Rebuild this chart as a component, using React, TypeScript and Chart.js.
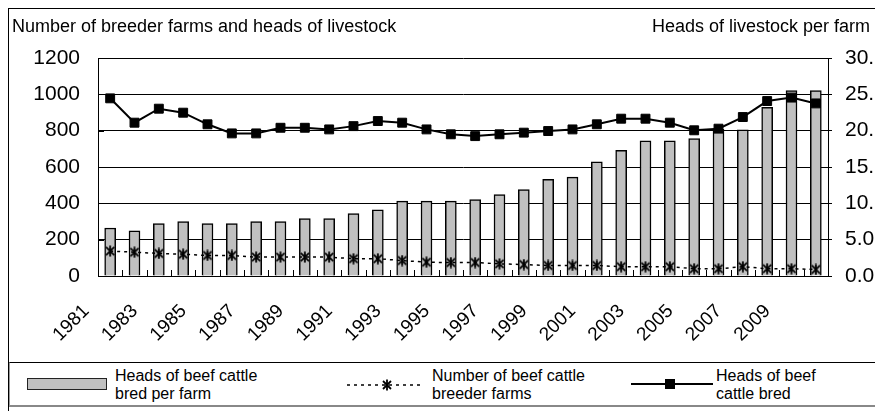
import React, { useEffect, useRef } from 'react';
import { Chart, registerables } from 'chart.js';

Chart.register(...registerables);

const years = [
  '1981', '1982', '1983', '1984', '1985', '1986', '1987', '1988', '1989', '1990',
  '1991', '1992', '1993', '1994', '1995', '1996', '1997', '1998', '1999', '2000',
  '2001', '2002', '2003', '2004', '2005', '2006', '2007', '2008', '2009', '2010',
];

// Heads of beef cattle bred per farm (right axis)
const headsPerFarm = [
  6.6, 6.2, 7.2, 7.5, 7.2, 7.2, 7.5, 7.5, 7.9, 7.9,
  8.6, 9.1, 10.3, 10.3, 10.3, 10.5, 11.2, 11.9, 13.3, 13.6,
  15.7, 17.3, 18.6, 18.6, 18.9, 20.2, 20.1, 23.2, 25.5, 25.5,
];

// Number of beef cattle breeder farms (left axis)
const breederFarms = [
  137, 131, 124, 120, 113, 113, 104, 104, 104, 104,
  95, 95, 85, 76, 74, 74, 67, 63, 58, 58,
  58, 51, 51, 51, 40, 40, 51, 40, 40, 36,
];

// Heads of beef cattle bred (left axis)
const headsBred = [
  978, 844, 921, 899, 835, 785, 785, 816, 816, 807,
  825, 853, 844, 807, 780, 770, 780, 789, 798, 807,
  835, 866, 866, 844, 802, 811, 875, 963, 982, 950,
];

const leftTitle = 'Number of breeder farms and heads of livestock';
const rightTitle = 'Heads of livestock per farm';
const legendPerFarm = ['Heads of beef cattle', 'bred per farm'];
const legendFarms = ['Number of beef cattle', 'breeder farms'];
const legendBred = ['Heads of beef', 'cattle bred'];

const FONT = '"Liberation Sans", Arial, Helvetica, sans-serif';

function makeAsterisk(size: number, lw: number): HTMLCanvasElement {
  const c = document.createElement('canvas');
  c.width = size;
  c.height = size;
  const ctx = c.getContext('2d')!;
  ctx.strokeStyle = '#000';
  ctx.lineWidth = lw;
  const m = size / 2;
  const r = size / 2 - 0.5;
  const d = r * 0.75;
  ctx.beginPath();
  ctx.moveTo(m, m - r);
  ctx.lineTo(m, m + r);
  ctx.moveTo(m - d, m - d);
  ctx.lineTo(m + d, m + d);
  ctx.moveTo(m + d, m - d);
  ctx.lineTo(m - d, m + d);
  ctx.stroke();
  return c;
}

const titlesPlugin = {
  id: 'titlesPlugin',
  afterDraw(chart: any) {
    const ctx = chart.ctx;
    ctx.save();
    ctx.fillStyle = '#000';
    ctx.font = `18px ${FONT}`;
    ctx.textBaseline = 'alphabetic';
    ctx.textAlign = 'left';
    ctx.fillText(leftTitle, 3, 23);
    ctx.textAlign = 'right';
    ctx.fillText(rightTitle, 861, 23);
    ctx.restore();
  },
};

const innerTicksPlugin = {
  id: 'innerTicksPlugin',
  beforeDatasetsDraw(chart: any) {
    const ctx = chart.ctx;
    const xs = chart.scales.x;
    const bottom = chart.chartArea.bottom;
    ctx.save();
    ctx.strokeStyle = '#000';
    ctx.lineWidth = 1;
    ctx.beginPath();
    for (let i = 1; i < years.length; i++) {
      const x = Math.round((xs.getPixelForValue(i - 1) + xs.getPixelForValue(i)) / 2) + 0.5;
      ctx.moveTo(x, bottom);
      ctx.lineTo(x, bottom - 6);
    }
    const ys = chart.scales.y;
    const left = chart.chartArea.left;
    [200, 400, 600, 800, 1000].forEach((v) => {
      const y = Math.round(ys.getPixelForValue(v)) + 0.5;
      ctx.moveTo(left, y);
      ctx.lineTo(left + 6, y);
    });
    ctx.stroke();
    ctx.restore();
  },
};

function LegendText({ lines, left }: { lines: string[]; left: number }) {
  return (
    <div
      style={{
        position: 'absolute',
        left,
        top: 4,
        font: `16px ${FONT}`,
        lineHeight: '17.6px',
        color: '#000',
        whiteSpace: 'nowrap',
      }}
    >
      {lines.map((l, i) => (
        <div key={i}>{l}</div>
      ))}
    </div>
  );
}

export default function App() {
  const canvasRef = useRef<HTMLCanvasElement | null>(null);

  useEffect(() => {
    const canvas = canvasRef.current;
    if (!canvas) return;
    const asterisk = makeAsterisk(12, 1.8);
    const chart = new Chart(canvas, {
      type: 'bar',
      data: {
        labels: years,
        datasets: [
          {
            type: 'line',
            label: 'Heads of beef cattle bred',
            data: headsBred,
            yAxisID: 'y',
            borderColor: '#000',
            borderWidth: 2,
            pointStyle: 'rect',
            pointRadius: 6.3,
            pointBackgroundColor: '#000',
            pointBorderColor: '#000',
            pointBorderWidth: 1,
            tension: 0,
            order: 1,
          } as any,
          {
            type: 'line',
            label: 'Number of beef cattle breeder farms',
            data: breederFarms,
            yAxisID: 'y',
            borderColor: '#000',
            borderWidth: 1.5,
            borderDash: [3, 4],
            pointStyle: asterisk,
            pointRadius: 6,
            tension: 0,
            order: 2,
          } as any,
          {
            type: 'bar',
            label: 'Heads of beef cattle bred per farm',
            data: headsPerFarm,
            yAxisID: 'y1',
            backgroundColor: '#c0c0c0',
            borderColor: '#000',
            borderWidth: 1.5,
            barThickness: 11,
            order: 3,
          } as any,
        ],
      },
      options: {
        animation: false,
        responsive: false,
        maintainAspectRatio: false,
        layout: { padding: { top: 49, left: 0, right: 0, bottom: 0 } },
        plugins: {
          legend: { display: false },
          tooltip: { enabled: false },
          title: { display: false },
        },
        scales: {
          x: {
            offset: true,
            grid: { display: false, drawTicks: false },
            border: { display: true, color: '#000', width: 1 },
            ticks: {
              autoSkip: false,
              maxRotation: 45,
              minRotation: 45,
              padding: 24,
              labelOffset: -24,
              color: '#000',
              font: { family: FONT, size: 19 },
              callback: (_v: any, i: number) => (i % 2 === 0 ? years[i] : ''),
            },
            afterFit: (s: any) => {
              s.height = 86;
            },
          },
          y: {
            position: 'left',
            min: 0,
            max: 1200,
            ticks: {
              stepSize: 200,
              padding: 18,
              color: '#000',
              font: { family: FONT, size: 21 },
              callback: (v: any) => String(v),
            },
            grid: { color: '#000', lineWidth: 1, drawTicks: false },
            border: { display: true, color: '#000', width: 1 },
            afterFit: (s: any) => {
              s.width = 89;
            },
          },
          y1: {
            position: 'right',
            min: 0,
            max: 30,
            ticks: {
              stepSize: 5,
              padding: 13,
              color: '#000',
              font: { family: FONT, size: 21 },
              callback: (v: any) => Number(v).toFixed(1),
            },
            grid: { drawOnChartArea: false, drawTicks: true, tickLength: 4, color: '#000' },
            border: { display: true, color: '#000', width: 1 },
            afterFit: (s: any) => {
              s.width = 55;
            },
          },
        },
      },
      plugins: [titlesPlugin, innerTicksPlugin],
    });
    return () => chart.destroy();
  }, []);

  return (
    <div
      style={{
        position: 'relative',
        marginLeft: -1,
        marginTop: -1,
        width: 876,
        height: 404,
        boxSizing: 'border-box',
        borderLeft: '2px solid #000',
        borderTop: '2px solid #000',
        overflow: 'hidden',
        background: '#fff',
      }}
    >
      <canvas ref={canvasRef} width={874} height={353} style={{ display: 'block', width: 874, height: 353 }} />
      <div
        style={{
          position: 'relative',
          width: 900,
          height: 45,
          boxSizing: 'border-box',
          borderTop: '1px solid #000',
          borderBottom: '2px solid #888',
          borderLeft: '1px solid #999',
        }}
      >
        <div
          style={{
            position: 'absolute',
            left: 17,
            top: 15,
            width: 80,
            height: 12,
            boxSizing: 'border-box',
            background: '#c0c0c0',
            border: '1.5px solid #222',
          }}
        />
        <LegendText lines={legendPerFarm} left={105} />
        <svg style={{ position: 'absolute', left: 337, top: 15 }} width={76} height={14}>
          <line x1={0} y1={7} x2={76} y2={7} stroke="#000" strokeWidth={1.5} strokeDasharray="3 4" />
          <g stroke="#000" strokeWidth={1.8}>
            <line x1={40} y1={1.5} x2={40} y2={12.5} />
            <line x1={36} y1={3} x2={44} y2={11} />
            <line x1={44} y1={3} x2={36} y2={11} />
          </g>
        </svg>
        <LegendText lines={legendFarms} left={422} />
        <svg style={{ position: 'absolute', left: 621, top: 14 }} width={82} height={14}>
          <line x1={0} y1={7} x2={82} y2={7} stroke="#000" strokeWidth={2} />
          <rect x={34} y={2} width={10} height={10} fill="#000" />
        </svg>
        <LegendText lines={legendBred} left={706} />
      </div>
    </div>
  );
}
